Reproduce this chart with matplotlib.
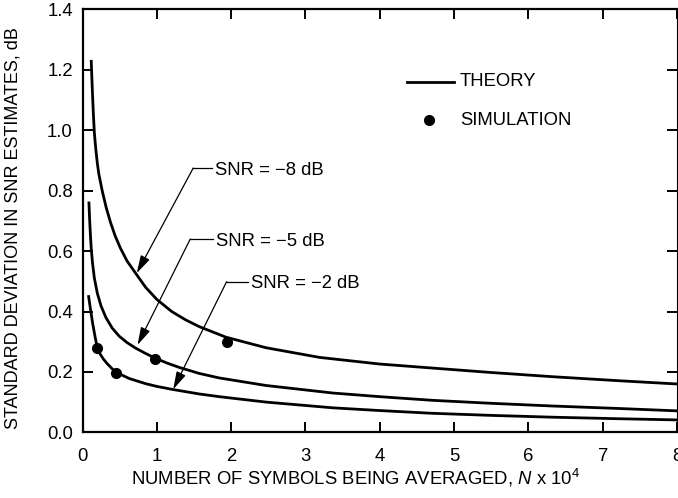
import matplotlib
matplotlib.use("Agg")
import matplotlib.pyplot as plt

plt.rcParams['font.family'] = ['Liberation Sans', 'DejaVu Sans']
plt.rcParams['mathtext.fontset'] = 'custom'
plt.rcParams['mathtext.rm'] = 'Liberation Sans'
plt.rcParams['mathtext.it'] = 'Liberation Sans:italic'

# Theory curves
x_m8 = [0.117, 0.125, 0.135, 0.147, 0.16, 0.18, 0.2, 0.22, 0.265, 0.32, 0.377, 0.44, 0.51, 0.6,
        0.72, 0.85, 1.0, 1.2, 1.39, 1.57, 1.93, 2.47, 3.19, 4.0, 4.8, 5.5, 6.33, 7.2, 8.0]
y_m8 = [1.233, 1.18, 1.118, 1.05, 0.99, 0.935, 0.89, 0.855, 0.80, 0.743, 0.695, 0.65, 0.61, 0.567,
        0.525, 0.48, 0.44, 0.40, 0.372, 0.35, 0.315, 0.28, 0.248, 0.226, 0.211, 0.198, 0.184, 0.171, 0.16]

x_m5 = [0.086, 0.095, 0.105, 0.117, 0.135, 0.16, 0.2, 0.25, 0.315, 0.4, 0.495, 0.6, 0.72, 0.85,
        0.966, 1.13, 1.30, 1.57, 1.84, 2.47, 3.37, 4.0, 4.7, 5.5, 6.33, 7.2, 8.0]
y_m5 = [0.764, 0.71, 0.66, 0.61, 0.56, 0.51, 0.46, 0.418, 0.38, 0.345, 0.318, 0.297, 0.278, 0.261,
        0.247, 0.23, 0.215, 0.195, 0.18, 0.155, 0.13, 0.118, 0.106, 0.096, 0.087, 0.079, 0.071]

x_m2 = [0.08, 0.10, 0.135, 0.17, 0.2, 0.24, 0.28, 0.33, 0.40, 0.5, 0.63, 0.85, 1.0, 1.21, 1.57,
        1.84, 2.47, 3.37, 4.0, 4.7, 5.5, 6.33, 7.2, 8.0]
y_m2 = [0.454, 0.42, 0.363, 0.315, 0.28, 0.258, 0.243, 0.228, 0.21, 0.193, 0.178, 0.161, 0.152, 0.142, 0.127,
        0.118, 0.10, 0.081, 0.072, 0.063, 0.056, 0.05, 0.045, 0.041]

# Simulation points
x_sim = [0.2, 0.45, 0.97, 1.95]
y_sim = [0.278, 0.197, 0.244, 0.299]

curve_labels = ["SNR = \u22128 dB", "SNR = \u22125 dB", "SNR = \u22122 dB"]
x_ticks = [0, 1, 2, 3, 4, 5, 6, 7, 8]
y_ticks = [0.0, 0.2, 0.4, 0.6, 0.8, 1.0, 1.2, 1.4]

fs = 13.3

fig = plt.figure(figsize=(6.78, 4.98), dpi=100)
ax_w_px = 677 - 82.5
ax_h_px = 432.3 - 9.5
ax = fig.add_axes([82.5 / 678, (498 - 432.3) / 498, ax_w_px / 678, ax_h_px / 498])

lw = 2.0
for xs, ys in [(x_m8, y_m8), (x_m5, y_m5), (x_m2, y_m2)]:
    ax.plot(xs, ys, color='black', lw=lw, solid_capstyle='butt', solid_joinstyle='round')
ax.plot(x_sim, y_sim, 'o', color='black', ms=7)

ax.set_xlim(0, 8)
ax.set_ylim(0, 1.4)
ax.set_xticks(x_ticks)
ax.set_yticks(y_ticks)
ax.set_yticklabels([f"{v:.1f}" for v in y_ticks])
ax.xaxis.set_ticks_position('both')
ax.yaxis.set_ticks_position('both')
ax.tick_params(axis='both', which='major', direction='in', length=7, width=1.4,
               color='black', labelsize=fs, labeltop=False, labelright=False)
ax.tick_params(axis='x', pad=11)
ax.tick_params(axis='y', pad=7)
for s in ['left', 'bottom', 'top']:
    ax.spines[s].set_linewidth(1.6)
ax.spines['right'].set_linewidth(0.8)

ax.set_ylabel("STANDARD DEVIATION IN SNR ESTIMATES, dB", fontsize=13)
ax.yaxis.set_label_coords(-0.103, 0.483)
ax.set_xlabel("NUMBER OF SYMBOLS BEING AVERAGED, $N$ x 10$^4$", fontsize=fs)
ax.xaxis.set_label_coords(0.459, -0.082)

# Legend drawn by hand
ax.plot([4.36, 5.0], [1.161, 1.161], color='black', lw=lw)
ax.text(5.08, 1.161, "THEORY", va='center', ha='left', fontsize=fs)
ax.plot([4.66], [1.034], 'o', color='black', ms=7)
ax.text(5.08, 1.034, "SIMULATION", va='center', ha='left', fontsize=fs)

# Annotations: (text x, text y, kink x, kink y, leader end x, tip x, tip y)
ann = [
    (1.78, 0.868, 1.49, 0.875, 1.745, 0.73, 0.527),
    (1.80, 0.633, 1.45, 0.640, 1.76, 0.74, 0.289),
    (2.27, 0.494, 1.94, 0.499, 2.23, 1.22, 0.142),
]
for lab, (tx, ty, kx, ky, lx, px, py) in zip(curve_labels, ann):
    ax.text(tx, ty, lab, va='center', ha='left', fontsize=fs)
    ax.plot([kx, lx], [ky, ky], color='black', lw=0.9)
    ax.annotate("", xy=(px, py), xytext=(kx, ky),
                arrowprops=dict(arrowstyle='-|>,head_length=0.9,head_width=0.25',
                                mutation_scale=12, color='black', lw=0.9,
                                shrinkA=0, shrinkB=0))

fig.savefig("out.png", dpi=100)
